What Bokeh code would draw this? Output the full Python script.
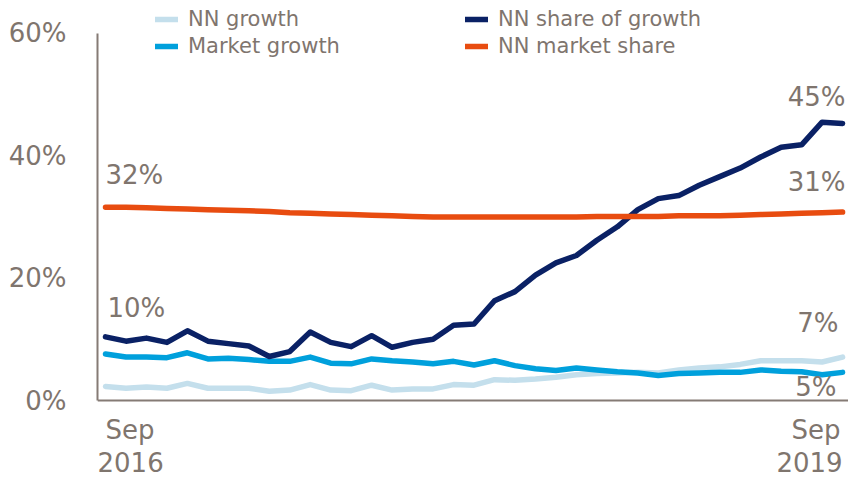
from bokeh.plotting import figure
from bokeh.models import Range1d, Label, Legend, LegendItem, FixedTicker, Span
from bokeh.embed import file_html
from bokeh.resources import INLINE

# Monthly data, Sep 2016 .. Sep 2019 (values in %)
months = ["Sep 2016", "Oct 2016", "Nov 2016", "Dec 2016", "Jan 2017", "Feb 2017", "Mar 2017",
          "Apr 2017", "May 2017", "Jun 2017", "Jul 2017", "Aug 2017", "Sep 2017", "Oct 2017",
          "Nov 2017", "Dec 2017", "Jan 2018", "Feb 2018", "Mar 2018", "Apr 2018", "May 2018",
          "Jun 2018", "Jul 2018", "Aug 2018", "Sep 2018", "Oct 2018", "Nov 2018", "Dec 2018",
          "Jan 2019", "Feb 2019", "Mar 2019", "Apr 2019", "May 2019", "Jun 2019", "Jul 2019",
          "Aug 2019", "Sep 2019"]

nn_growth = [2.3, 2.0, 2.2, 2.0, 2.8, 2.0, 2.0, 2.0, 1.5, 1.7, 2.6, 1.7, 1.6, 2.5, 1.7, 1.9, 1.9,
             2.6, 2.5, 3.4, 3.3, 3.5, 3.8, 4.2, 4.4, 4.5, 4.6, 4.5, 5.0, 5.3, 5.5, 5.9, 6.5, 6.5,
             6.5, 6.3, 7.1]
market_growth = [7.6, 7.1, 7.1, 7.0, 7.8, 6.8, 6.9, 6.7, 6.4, 6.4, 7.1, 6.1, 6.0, 6.8, 6.5, 6.3, 6.0,
                 6.4, 5.8, 6.5, 5.7, 5.2, 4.9, 5.3, 5.0, 4.7, 4.5, 4.1, 4.4, 4.5, 4.6, 4.6, 5.0, 4.8,
                 4.7, 4.2, 4.6]
nn_share_of_growth = [10.4, 9.7, 10.2, 9.5, 11.4, 9.7, 9.3, 8.9, 7.2, 8.0, 11.2, 9.5, 8.8, 10.6, 8.7,
                      9.5, 10.0, 12.3, 12.5, 16.3, 17.8, 20.5, 22.5, 23.7, 26.2, 28.4, 31.2, 33.0,
                      33.5, 35.2, 36.6, 38.0, 39.8, 41.4, 41.8, 45.5, 45.3]
nn_market_share = [31.6, 31.6, 31.5, 31.4, 31.3, 31.2, 31.1, 31.0, 30.9, 30.7, 30.6, 30.5, 30.4,
                   30.3, 30.2, 30.1, 30.0, 30.0, 30.0, 30.0, 30.0, 30.0, 30.0, 30.0, 30.1, 30.1,
                   30.1, 30.1, 30.2, 30.2, 30.2, 30.3, 30.4, 30.5, 30.6, 30.7, 30.8]

y_ticks = [0, 20, 40, 60]
y_tick_labels = ["0%", "20%", "40%", "60%"]

TEXT = "#7f756e"
AXIS = "#857b75"
FONT = "DejaVu Sans"
C_NN_GROWTH = "#c4dfec"
C_MKT_GROWTH = "#00a0dc"
C_SHARE_GROWTH = "#0a2165"
C_MKT_SHARE = "#e84c10"

x = list(range(len(months)))
n = len(months) - 1

p = figure(width=848, height=478, output_backend="svg", toolbar_location=None,
           x_range=Range1d(-0.391, n + 0.29), y_range=Range1d(-12.75, 65.39),
           min_border_left=97, min_border_right=0, min_border_top=0, min_border_bottom=0)
p.outline_line_color = None
p.background_fill_color = "white"
p.border_fill_color = "white"
p.grid.visible = False

# y axis
p.yaxis.ticker = FixedTicker(ticks=y_ticks)
p.yaxis.major_label_overrides = {t: l for t, l in zip(y_ticks, y_tick_labels)}
p.yaxis.bounds = (0, 60)
p.yaxis.axis_line_color = AXIS
p.yaxis.axis_line_width = 2
p.yaxis.major_tick_line_color = None
p.yaxis.minor_tick_line_color = None
p.yaxis.major_label_text_font = FONT
p.yaxis.major_label_text_font_size = "26px"
p.yaxis.major_label_text_color = TEXT
p.yaxis.major_label_standoff = 25

# x axis: baseline at 0 only
p.xaxis.visible = False
p.add_layout(Span(location=0, dimension="width", line_color=AXIS, line_width=2))

lw = 5.5
r1 = p.line(x, nn_growth, line_color=C_NN_GROWTH, line_width=lw, line_join="round", line_cap="round")
r2 = p.line(x, market_growth, line_color=C_MKT_GROWTH, line_width=lw, line_join="round", line_cap="round")
r3 = p.line(x, nn_share_of_growth, line_color=C_SHARE_GROWTH, line_width=lw, line_join="round", line_cap="round")
r4 = p.line(x, nn_market_share, line_color=C_MKT_SHARE, line_width=lw, line_join="round", line_cap="round")


def make_legend(items, loc):
    lg = Legend(items=items, location=loc, orientation="vertical",
                label_text_font=FONT, label_text_font_size="21px", label_text_color=TEXT,
                glyph_width=23, glyph_height=20, label_standoff=10, spacing=3,
                padding=0, margin=0, border_line_color=None, background_fill_alpha=0)
    p.add_layout(lg)


make_legend([LegendItem(label="NN growth", renderers=[r1]),
             LegendItem(label="Market growth", renderers=[r2])], (58, 420))
make_legend([LegendItem(label="NN share of growth", renderers=[r3]),
             LegendItem(label="NN market share", renderers=[r4])], (368, 420))


def pct(v):
    return f"{round(v)}%"


def add_label(xv, yv, text, align, x_off, y_off):
    p.add_layout(Label(x=xv, y=yv, text=text, text_align=align, text_baseline="middle",
                       x_offset=x_off, y_offset=y_off, text_font=FONT,
                       text_font_size="26px", text_color=TEXT))


add_label(0, nn_market_share[0], pct(nn_market_share[0]), "left", 0, 32)
add_label(0, nn_share_of_growth[0], pct(nn_share_of_growth[0]), "left", 2, 29)
add_label(n, nn_share_of_growth[-1], pct(nn_share_of_growth[-1]), "right", 3, 26)
add_label(n, nn_market_share[-1], pct(nn_market_share[-1]), "right", 3, 30)
add_label(n, nn_growth[-1], pct(nn_growth[-1]), "right", -4, 34)
add_label(n, market_growth[-1], pct(market_growth[-1]), "right", -6, -15)

# x-axis end labels
first_m, first_y = months[0].split()
last_m, last_y = months[-1].split()
add_label(0, 0, first_m, "left", 0, -29)
add_label(0, 0, first_y, "left", -8, -61)
add_label(n, 0, last_m, "right", -2, -29)
add_label(n, 0, last_y, "right", 0, -61)

open("out.html", "w").write(file_html(p, INLINE))
